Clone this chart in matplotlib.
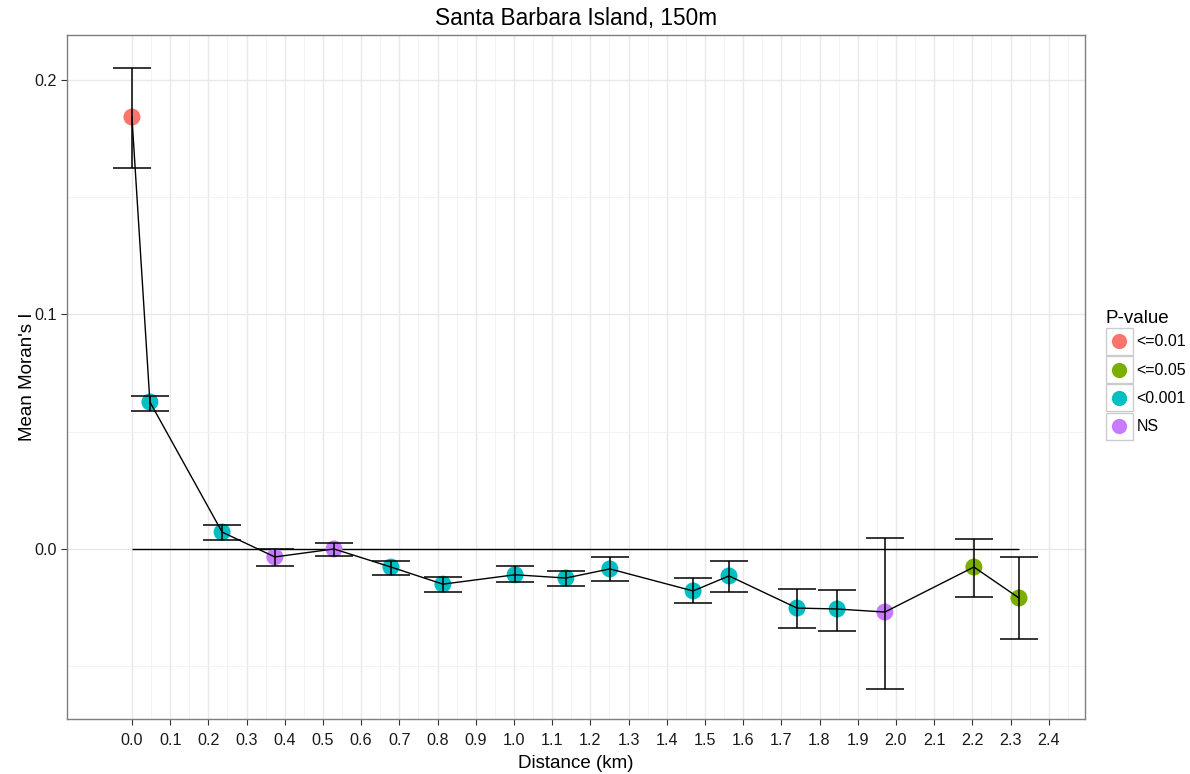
import numpy as np
import matplotlib
matplotlib.use("Agg")
import matplotlib.pyplot as plt
from matplotlib.lines import Line2D
from matplotlib.patches import Rectangle
from matplotlib.legend_handler import HandlerBase

plt.rcParams['font.family'] = ['Liberation Sans', 'DejaVu Sans']

# values
distance = [0.0, 0.047, 0.236, 0.374, 0.529, 0.678, 0.814, 1.003, 1.136, 1.251,
            1.469, 1.563, 1.741, 1.846, 1.971, 2.204, 2.322]
moran = [0.1842, 0.0627, 0.0072, -0.0034, 0.0, -0.0077, -0.0150, -0.0110, -0.0124, -0.0085,
         -0.0179, -0.0115, -0.0252, -0.0256, -0.0269, -0.0077, -0.0209]
err_hi = [0.2050, 0.0652, 0.0102, 0.0000, 0.0026, -0.0050, -0.0120, -0.0072, -0.0094, -0.0034,
          -0.0124, -0.0050, -0.0170, -0.0175, 0.0047, 0.0043, -0.0034]
err_lo = [0.1625, 0.0588, 0.0038, -0.0072, -0.0030, -0.0110, -0.0183, -0.0140, -0.0158, -0.0136,
          -0.0230, -0.0183, -0.0337, -0.0350, -0.0597, -0.0205, -0.0384]
pval = ["<=0.01", "<0.001", "<0.001", "NS", "NS", "<0.001", "<0.001", "<0.001", "<0.001", "<0.001",
        "<0.001", "<0.001", "<0.001", "<0.001", "NS", "<=0.05", "<=0.05"]
levels = ["<=0.01", "<=0.05", "<0.001", "NS"]
colors = {"<=0.01": "#F8766D", "<=0.05": "#7CAE00", "<0.001": "#00BFC4", "NS": "#C77CFF"}
x_breaks = np.round(np.arange(0, 2.41, 0.1), 1)


class KeyHandler(HandlerBase):
    # ggplot style legend key: grey bordered box with a dot
    def create_artists(self, legend, orig_handle, xdescent, ydescent, width, height, fontsize, trans):
        box = Rectangle((-xdescent, -ydescent), width, height, facecolor="white",
                        edgecolor="#cccccc", lw=1.0, transform=trans)
        dot = Line2D([-xdescent + width / 2], [-ydescent + height / 2], marker="o", ls="none",
                     markersize=11, color=orig_handle.get_color(), markeredgecolor="none",
                     transform=trans)
        return [box, dot]


x = np.array(distance)
y = np.array(moran)

fig = plt.figure(figsize=(11.9, 7.74), dpi=100)
ax = fig.add_axes([0.0563, 0.0711, 0.8555, 0.8837])

ax.hlines(0, x.min(), x.max(), color="black", lw=1.0, zorder=3)

for lv in levels:
    idx = [i for i, p in enumerate(pval) if p == lv]
    ax.scatter(x[idx], y[idx], s=150, color=colors[lv], edgecolors="none", zorder=4)

ax.plot(x, y, color="black", lw=1.0, zorder=5)
ax.vlines(x, err_lo, err_hi, color="black", lw=1.1, zorder=5)
ax.hlines(err_lo, x - 0.05, x + 0.05, color="black", lw=1.1, zorder=5)
ax.hlines(err_hi, x - 0.05, x + 0.05, color="black", lw=1.1, zorder=5)

ax.set_xlim(-0.17, 2.495)
ax.set_ylim(-0.0725, 0.2192)
ax.set_xticks(x_breaks)
ax.set_xticklabels(["%.1f" % v for v in x_breaks])
ax.set_xticks(np.arange(0.05, 2.46, 0.1), minor=True)
ax.set_yticks([0.0, 0.1, 0.2])
ax.set_yticklabels(["0.0", "0.1", "0.2"])
ax.set_yticks([-0.05, 0.05, 0.15], minor=True)

ax.grid(True, which="major", color="#e8e8e8", lw=1.0)
ax.grid(True, which="minor", color="#f3f3f3", lw=0.7)
ax.set_axisbelow(True)
ax.tick_params(which="major", length=4, color="#333333", labelsize=11.6, labelcolor="#1a1a1a")
ax.tick_params(axis="x", which="major", pad=6)
ax.tick_params(axis="y", which="major", pad=3)
ax.tick_params(which="minor", length=0)
for s in ax.spines.values():
    s.set_color("#7f7f7f")
    s.set_linewidth(1.0)

ax.set_xlabel("Distance (km)", fontsize=13.5, labelpad=5)
ax.set_ylabel("Mean Moran's I", fontsize=13.5, labelpad=-1)
ax.set_title("Santa Barbara Island, 150m", fontsize=16.3, pad=7)

handles = [Line2D([], [], color=colors[lv]) for lv in levels]
leg = fig.legend(handles, levels, title="P-value", loc="upper left",
                 bbox_to_anchor=(0.929, 0.600), frameon=False, fontsize=11.5,
                 title_fontsize=13.5, handlelength=1.69, handleheight=2.22,
                 handletextpad=0.25, labelspacing=0.08, borderpad=0, borderaxespad=0,
                 handler_map={Line2D: KeyHandler()})
leg._legend_box.align = "left"

fig.savefig("out.png", dpi=100)
